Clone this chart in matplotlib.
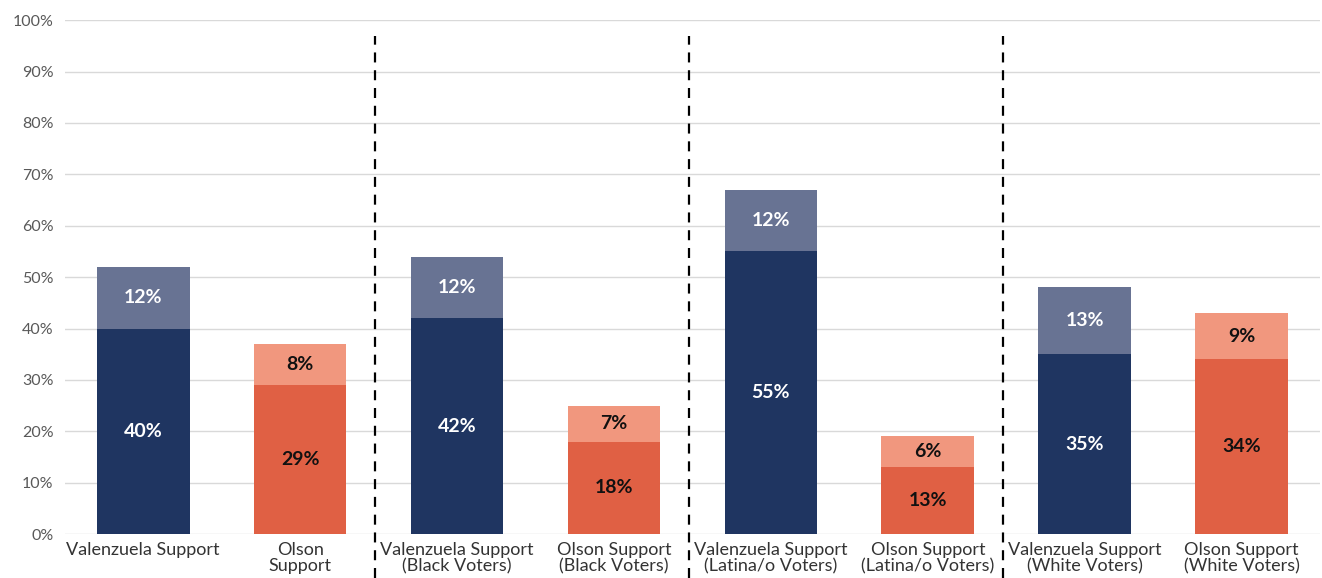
import numpy as np
import matplotlib
matplotlib.use("Agg")
import matplotlib.pyplot as plt

categories = ["Valenzuela Support", "Olson\nSupport",
              "Valenzuela Support\n(Black Voters)", "Olson Support\n(Black Voters)",
              "Valenzuela Support\n(Latina/o Voters)", "Olson Support\n(Latina/o Voters)",
              "Valenzuela Support\n(White Voters)", "Olson Support\n(White Voters)"]
base = [40, 29, 42, 18, 55, 13, 35, 34]
extra = [12, 8, 12, 7, 12, 6, 13, 9]
candidate = ["V", "O", "V", "O", "V", "O", "V", "O"]
dividers = [1.5, 3.5, 5.5]

plt.rcParams['font.family'] = ['Lato', 'DejaVu Sans']

dark = {"V": "#1F3561", "O": "#E06044"}
light = {"V": "#687393", "O": "#F1977E"}
txt = {"V": "white", "O": "#111111"}

fig = plt.figure(figsize=(13.22, 5.78), dpi=100)
ax = fig.add_axes([0.049, 0.076, 0.9495, 0.889])

x = np.arange(len(categories))
for i in x:
    c = candidate[i]
    ax.bar(i, base[i], width=0.59, color=dark[c], zorder=2)
    ax.bar(i, extra[i], width=0.59, bottom=base[i], color=light[c], zorder=2)
    ax.text(i, base[i] / 2, f"{base[i]}%", ha="center", va="center",
            color=txt[c], fontsize=14, fontweight="bold", zorder=3)
    ax.text(i, base[i] + extra[i] / 2, f"{extra[i]}%", ha="center", va="center",
            color=txt[c], fontsize=14, fontweight="bold", zorder=3)

for d in dividers:
    ax.plot([d - 0.02, d - 0.02], [-8.5, 97], color="black", lw=1.6,
            linestyle=(0, (4.5, 3.5)), clip_on=False, zorder=4)

ax.set_xlim(-0.5, 7.5)
ax.set_ylim(0, 100)
ax.set_yticks(np.arange(0, 101, 10))
ax.set_yticklabels([f"{v}%" for v in range(0, 101, 10)])
ax.set_xticks(x)
ax.set_xticklabels(categories, fontsize=13, color="#333333", linespacing=1.0)
ax.tick_params(axis="y", length=0, labelsize=11.5, labelcolor="#595959", pad=8)
ax.tick_params(axis="x", length=0, pad=6)
ax.yaxis.grid(True, color="#D9D9D9", lw=1, zorder=0)
ax.set_axisbelow(True)
for s in ax.spines.values():
    s.set_visible(False)

plt.savefig("out.png", dpi=100)
